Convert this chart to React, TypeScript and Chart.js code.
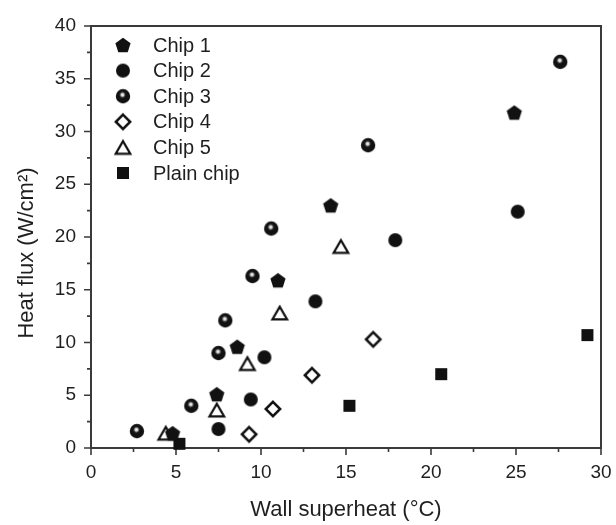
import React, { useEffect, useRef } from 'react';
import { Chart, registerables } from 'chart.js';

Chart.register(...registerables);

// Wall superheat (°C) and heat flux (W/cm²) for each test chip
const chip1X = [4.8, 7.4, 8.6, 11.0, 14.1, 24.9];
const chip1Y = [1.4, 5.1, 9.6, 15.9, 23.0, 31.8];
const chip2X = [7.5, 9.4, 10.2, 13.2, 17.9, 25.1];
const chip2Y = [1.8, 4.6, 8.6, 13.9, 19.7, 22.4];
const chip3X = [2.7, 5.9, 7.5, 7.9, 9.5, 10.6, 16.3, 27.6];
const chip3Y = [1.6, 4.0, 9.0, 12.1, 16.3, 20.8, 28.7, 36.6];
const chip4X = [9.3, 10.7, 13.0, 16.6];
const chip4Y = [1.3, 3.7, 6.9, 10.3];
const chip5X = [4.4, 7.4, 9.2, 11.1, 14.7];
const chip5Y = [1.4, 3.6, 8.0, 12.8, 19.1];
const plainX = [5.2, 15.2, 20.6, 29.2];
const plainY = [0.4, 4.0, 7.0, 10.7];

const seriesLabels = ['Chip 1', 'Chip 2', 'Chip 3', 'Chip 4', 'Chip 5', 'Plain chip'];
const seriesSymbols = ['pentagon', 'circle', 'sphere', 'diamond', 'triangle', 'square'];

const xMin = 0;
const xMax = 30;
const xMajorStep = 5;
const yMin = 0;
const yMax = 40;
const yMajorStep = 5;
const minorStep = 2.5;

const xTitle = 'Wall superheat (°C)';
const yTitle = 'Heat flux (W/cm²)';

const FONT = '"Liberation Sans", Arial, Helvetica, sans-serif';
const INK = '#111';
const AXIS = '#3a3a3a';
const TEXT = '#1f1f1f';

function makeSymbol(kind: string): HTMLCanvasElement {
  const size = 24;
  const c = document.createElement('canvas');
  c.width = size;
  c.height = size;
  const g = c.getContext('2d')!;
  const cx = size / 2;
  const cy = size / 2;
  g.fillStyle = INK;
  g.strokeStyle = INK;
  g.lineJoin = 'miter';
  g.beginPath();
  if (kind === 'pentagon') {
    const r = 8;
    for (let k = 0; k < 5; k++) {
      const a = -Math.PI / 2 + (k * 2 * Math.PI) / 5;
      const px = cx + r * Math.cos(a);
      const py = cy + 0.7 + r * Math.sin(a);
      if (k === 0) g.moveTo(px, py);
      else g.lineTo(px, py);
    }
    g.closePath();
    g.fill();
  } else if (kind === 'circle') {
    g.arc(cx, cy, 7, 0, Math.PI * 2);
    g.fill();
  } else if (kind === 'sphere') {
    g.arc(cx, cy, 7.2, 0, Math.PI * 2);
    g.fill();
    const hx = cx - 0.5;
    const hy = cy - 1.4;
    const grad = g.createRadialGradient(hx, hy, 0, hx, hy, 3.8);
    grad.addColorStop(0, 'rgba(255,255,255,1)');
    grad.addColorStop(0.4, 'rgba(220,220,220,0.9)');
    grad.addColorStop(1, 'rgba(20,20,20,0)');
    g.beginPath();
    g.fillStyle = grad;
    g.arc(hx, hy, 3.8, 0, Math.PI * 2);
    g.fill();
  } else if (kind === 'diamond') {
    const r = 7.2;
    g.lineWidth = 2.5;
    g.moveTo(cx, cy - r);
    g.lineTo(cx + r, cy);
    g.lineTo(cx, cy + r);
    g.lineTo(cx - r, cy);
    g.closePath();
    g.stroke();
  } else if (kind === 'triangle') {
    const s = 14.5;
    const h = (s * Math.sqrt(3)) / 2;
    g.lineWidth = 2.3;
    g.moveTo(cx, cy - h / 2);
    g.lineTo(cx + s / 2, cy + h / 2);
    g.lineTo(cx - s / 2, cy + h / 2);
    g.closePath();
    g.stroke();
  } else {
    const s = 12;
    g.rect(cx - s / 2, cy - s / 2, s, s);
    g.fill();
  }
  return c;
}

function pairs(xs: number[], ys: number[]) {
  return xs.map((x, i) => ({ x, y: ys[i] }));
}

// Frame around the plot with outward major and minor tick marks
const framePlugin = {
  id: 'frameTicks',
  beforeDatasetsDraw(chart: any) {
    const { ctx, chartArea: a, scales } = chart;
    const xs = scales.x;
    const ys = scales.y;
    ctx.save();
    ctx.strokeStyle = AXIS;
    ctx.lineWidth = 2;
    ctx.strokeRect(a.left, a.top, a.right - a.left, a.bottom - a.top);
    ctx.lineWidth = 1.6;
    ctx.beginPath();
    for (let v = xMin; v <= xMax + 1e-9; v += minorStep) {
      const px = xs.getPixelForValue(v);
      const major = Math.abs(v / xMajorStep - Math.round(v / xMajorStep)) < 1e-9;
      ctx.moveTo(px, a.bottom);
      ctx.lineTo(px, a.bottom + (major ? 7 : 4));
    }
    for (let v = yMin; v <= yMax + 1e-9; v += minorStep) {
      const py = ys.getPixelForValue(v);
      const major = Math.abs(v / yMajorStep - Math.round(v / yMajorStep)) < 1e-9;
      ctx.moveTo(a.left, py);
      ctx.lineTo(a.left - (major ? 7 : 4), py);
    }
    ctx.stroke();
    ctx.restore();
  },
};

// Legend inside the upper-left corner of the plot, plus the rotated y-axis title
const insideLegendPlugin = {
  id: 'insideLegend',
  afterDatasetsDraw(chart: any) {
    const { ctx, chartArea: a } = chart;
    ctx.save();
    ctx.font = `20px ${FONT}`;
    ctx.fillStyle = TEXT;
    ctx.textBaseline = 'middle';
    ctx.textAlign = 'left';
    chart.data.datasets.forEach((ds: any, i: number) => {
      const y = a.top + 19 + i * 25.6;
      const img = ds.pointStyle as HTMLCanvasElement;
      ctx.drawImage(img, a.left + 32 - img.width / 2, y - img.height / 2);
      ctx.fillText(ds.label, a.left + 62, y + 1);
    });

    ctx.translate(27, (a.top + a.bottom) / 2 + 16);
    ctx.rotate(-Math.PI / 2);
    ctx.font = `22px ${FONT}`;
    ctx.textAlign = 'center';
    ctx.fillText(yTitle, 0, 0);
    ctx.restore();
  },
};

export default function App() {
  const canvasRef = useRef<HTMLCanvasElement | null>(null);

  useEffect(() => {
    document.body.style.margin = '0';
    const canvas = canvasRef.current;
    if (!canvas) return;
    const xsAll = [chip1X, chip2X, chip3X, chip4X, chip5X, plainX];
    const ysAll = [chip1Y, chip2Y, chip3Y, chip4Y, chip5Y, plainY];
    const datasets = seriesLabels.map((label, i) => ({
      label,
      data: pairs(xsAll[i], ysAll[i]),
      pointStyle: makeSymbol(seriesSymbols[i]),
      pointRadius: 8,
      showLine: false,
      clip: false as any,
    }));

    const chart = new Chart(canvas, {
      type: 'scatter',
      data: { datasets },
      options: {
        animation: false,
        responsive: false,
        devicePixelRatio: 1,
        events: [],
        layout: { padding: { top: 26, right: 15, left: 0, bottom: 0 } },
        plugins: {
          legend: { display: false },
          tooltip: { enabled: false },
        },
        scales: {
          x: {
            type: 'linear',
            min: xMin,
            max: xMax,
            grid: { display: false },
            border: { display: false },
            ticks: {
              stepSize: xMajorStep,
              padding: 5,
              color: TEXT,
              font: { family: FONT, size: 19 },
              maxRotation: 0,
            },
            title: {
              display: true,
              text: xTitle,
              color: TEXT,
              font: { family: FONT, size: 22 },
              padding: { top: 0, bottom: 2 },
            },
            afterFit(scale: any) {
              scale.height = 77;
              scale.paddingLeft = 0;
              scale.paddingRight = 0;
            },
          },
          y: {
            type: 'linear',
            min: yMin,
            max: yMax,
            grid: { display: false },
            border: { display: false },
            ticks: {
              stepSize: yMajorStep,
              padding: 7,
              color: TEXT,
              font: { family: FONT, size: 19 },
            },
            title: { display: false, text: yTitle },
            afterFit(scale: any) {
              scale.width = 91;
              scale.paddingTop = 0;
              scale.paddingBottom = 0;
            },
          },
        },
      },
      plugins: [framePlugin, insideLegendPlugin],
    });

    return () => chart.destroy();
  }, []);

  return (
    <div style={{ width: 616, height: 525, background: '#fff' }}>
      <canvas ref={canvasRef} width={616} height={525} style={{ display: 'block' }} />
    </div>
  );
}
